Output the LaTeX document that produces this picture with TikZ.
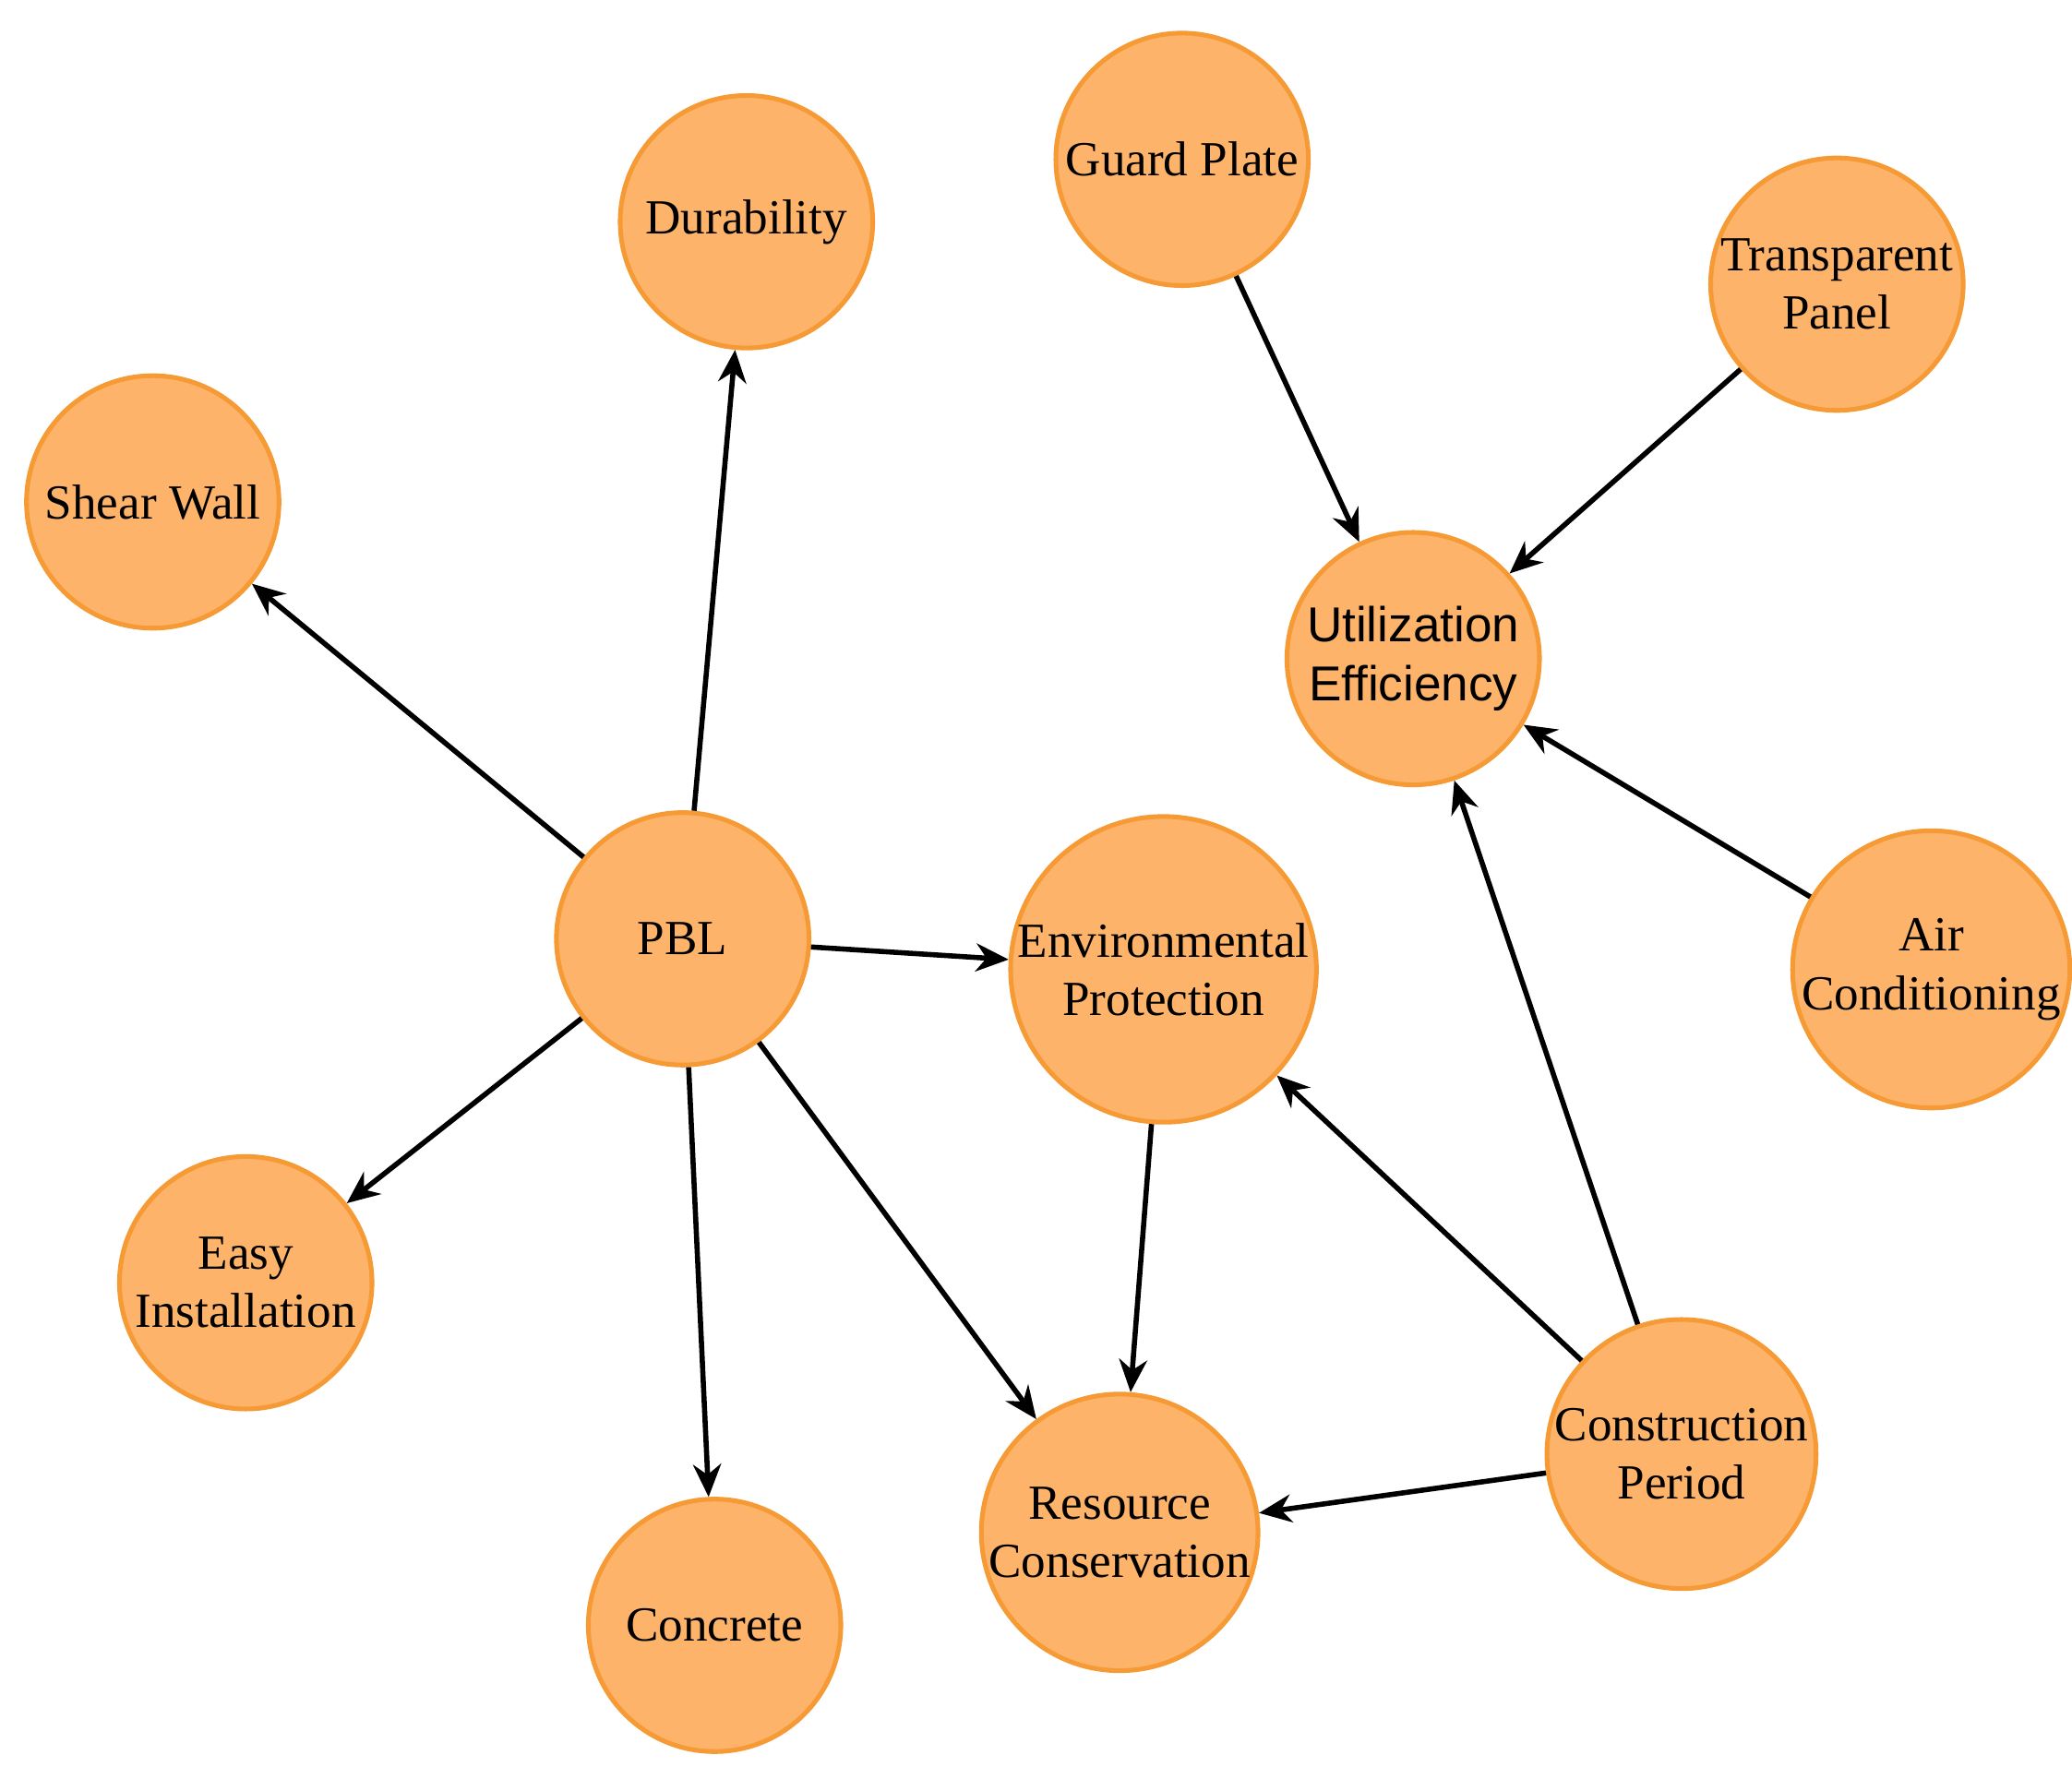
\documentclass[tikz,border=0pt]{standalone}
\usepackage{fontspec}
\setmainfont{Liberation Serif}
\newfontfamily\sansf{Liberation Sans}
\usetikzlibrary{arrows.meta}
\definecolor{nodefill}{HTML}{FDB46A}
\definecolor{nodeline}{HTML}{F59A35}
\begin{document}
\begin{tikzpicture}[x=0.01cm,y=-0.01cm,
  c/.style={circle,fill=nodefill,draw=nodeline,line width=1pt,minimum size=1.9cm,inner sep=0pt,align=center,font=\fontsize{10.5}{12.5}\selectfont},
  a/.style={-{Stealth[length=7pt,width=6pt]},line width=1.1pt}]
\useasboundingbox (0,0) rectangle (1560,1330);
\node[c] (dur) at (562,167) {Durability};
\node[c] (gp) at (890,120) {Guard Plate};
\node[c] (tp) at (1383,214) {Transparent\\Panel};
\node[c] (sw) at (115,378) {Shear Wall};
\node[c,font=\sansf\fontsize{10.5}{12.5}\selectfont] (ue) at (1064,496) {Utilization\\Efficiency};
\node[c] (pbl) at (514,707) {PBL};
\node[c] (ep) at (876,730) {Environmental\\Protection};
\node[c] (ac) at (1454,730) {Air\\Conditioning};
\node[c] (ei) at (185,966) {Easy\\Installation};
\node[c] (cp) at (1266,1095) {Construction\\Period};
\node[c] (rc) at (843,1154) {Resource\\Conservation};
\node[c] (con) at (538,1224) {Concrete};
\draw[a] (pbl) -- (dur);
\draw[a] (pbl) -- (sw);
\draw[a] (pbl) -- (ep);
\draw[a] (pbl) -- (ei);
\draw[a] (pbl) -- (con);
\draw[a] (pbl) -- (rc);
\draw[a] (gp) -- (ue);
\draw[a] (tp) -- (ue);
\draw[a] (ac) -- (ue);
\draw[a] (cp) -- (ue);
\draw[a] (cp) -- (ep);
\draw[a] (cp) -- (rc);
\draw[a] (ep) -- (rc);
\end{tikzpicture}
\end{document}
